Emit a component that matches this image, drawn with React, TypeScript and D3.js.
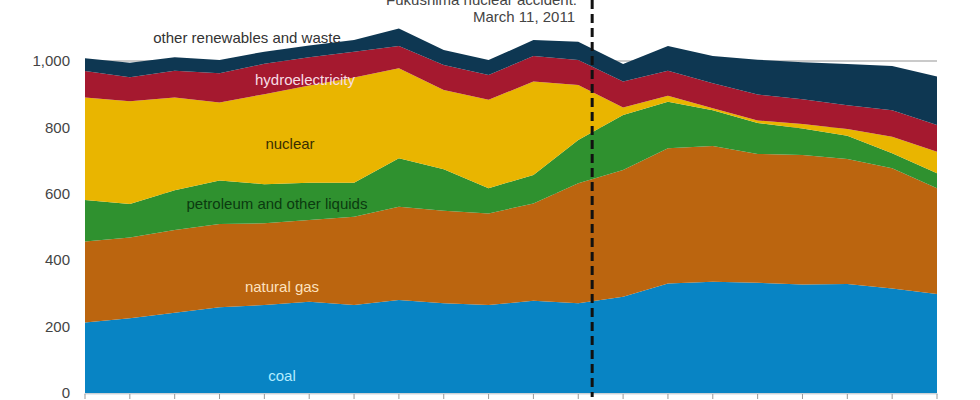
import React from "react";
import * as d3 from "d3";

const years = [2000, 2001, 2002, 2003, 2004, 2005, 2006, 2007, 2008, 2009, 2010, 2011, 2012, 2013, 2014, 2015, 2016, 2017, 2018, 2019];
const coal = [212, 225, 242, 258, 265, 275, 265, 280, 270, 265, 278, 270, 290, 330, 335, 332, 327, 328, 315, 298];
const naturalGas = [244, 243, 249, 251, 246, 246, 266, 281, 279, 276, 293, 362, 382, 407, 409, 388, 390, 377, 362, 319];
const petroleum = [125, 101, 120, 131, 118, 112, 102, 146, 125, 76, 86, 130, 165, 140, 108, 93, 80, 70, 45, 45];
const nuclear = [309, 310, 279, 235, 271, 293, 317, 271, 239, 266, 281, 166, 23, 18, 6, 8, 13, 20, 50, 65];
const hydro = [80, 72, 81, 88, 92, 85, 78, 67, 75, 75, 77, 75, 78, 76, 75, 78, 75, 72, 80, 80];
const otherRenewables = [38, 44, 40, 40, 36, 36, 35, 53, 45, 45, 48, 55, 53, 74, 82, 105, 111, 124, 133, 146];
const yTicks = [0, 200, 400, 600, 800, 1000];
const seriesKeys = ["coal", "gas", "petroleum", "nuclear", "hydro", "other"];
const seriesColors = ["#0884c4", "#bb650f", "#2f912f", "#e9b500", "#a5192f", "#0e3752"];

export default function App() {
  const W = 980, H = 400;
  const x = d3.scaleLinear().domain([0, years.length - 1]).range([85, 937]);
  const y = d3.scaleLinear().domain([0, 1000]).range([393, 61]);
  const rows = years.map((yr, i) => ({
    coal: coal[i], gas: naturalGas[i], petroleum: petroleum[i], nuclear: nuclear[i], hydro: hydro[i], other: otherRenewables[i], i,
  }));
  const stacked = d3.stack<any>().keys(seriesKeys)(rows);
  const area = d3.area<any>().x((d: any) => x(d.data.i)).y0((d: any) => y(d[0])).y1((d: any) => y(d[1]));
  const fukX = x(11 + 0.31);
  const font = "'Liberation Sans', Arial, sans-serif";
  return (
    <svg width={W} height={H} style={{ position: "absolute", left: 0, top: 0, background: "#fff" }} fontFamily={font}>
      {yTicks.map((t) => (
        <g key={t}>
          <line x1={85} x2={937} y1={y(t)} y2={y(t)} stroke="#b8b8b8" strokeWidth={1.5} />
          <text x={70} y={y(t)} dy="0.35em" textAnchor="end" fontSize={15} fill="#444">{d3.format(",")(t)}</text>
        </g>
      ))}
      {stacked.map((s, k) => (
        <path key={s.key} d={area(s) || ""} fill={seriesColors[k]} />
      ))}
      <line x1={84} x2={938} y1={394} y2={394} stroke="#cfd8e0" strokeWidth={1} />
      {years.map((yr, i) => (
        <line key={yr} x1={x(i)} x2={x(i)} y1={394} y2={399} stroke="#999" strokeWidth={1} />
      ))}
      <line x1={fukX} x2={fukX} y1={0} y2={397} stroke="#111" strokeWidth={3} strokeDasharray="9,5" />
      <text x={577} y={5} textAnchor="end" fontSize={15} fill="#444">Fukushima nuclear accident:</text>
      <text x={575} y={22} textAnchor="end" fontSize={15} fill="#444">March 11, 2011</text>
      <text x={247} y={43} textAnchor="middle" fontSize={15} fill="#333">other renewables and waste</text>
      <text x={305} y={85} textAnchor="middle" fontSize={15} fill="#f7dde4">hydroelectricity</text>
      <text x={290} y={149} textAnchor="middle" fontSize={15} fill="#3a2f00">nuclear</text>
      <text x={277} y={209} textAnchor="middle" fontSize={15} fill="#0b3a10">petroleum and other liquids</text>
      <text x={282} y={292} textAnchor="middle" fontSize={15} fill="#fde2bf">natural gas</text>
      <text x={282} y={381} textAnchor="middle" fontSize={15} fill="#b3ecff">coal</text>
    </svg>
  );
}
